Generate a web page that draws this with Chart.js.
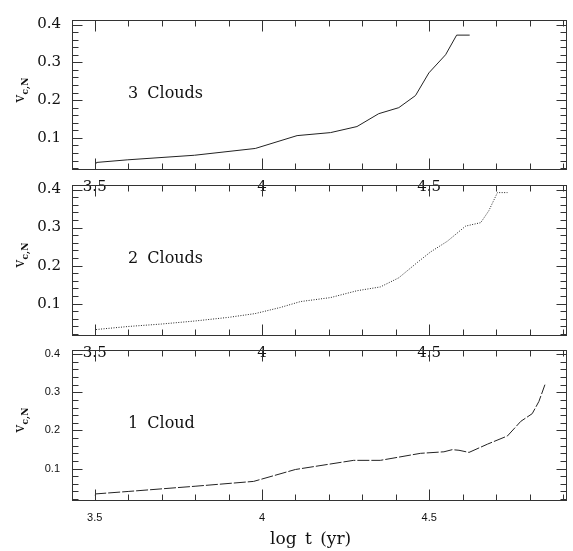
<!DOCTYPE html>
<html><head><meta charset="utf-8">
<script src="https://cdn.jsdelivr.net/npm/chart.js@4.4.0/dist/chart.umd.min.js"></script>
<style>
html,body{margin:0;padding:0;background:#fff;}
#wrap{position:relative;width:573px;height:551px;overflow:hidden;background:#fff;}
canvas{position:absolute;left:0;}
.lbl{position:absolute;font-family:"DejaVu Serif",serif;font-size:16px;color:#111;white-space:nowrap;line-height:1;word-spacing:4px;}
.yt{position:absolute;font-family:"DejaVu Serif",serif;font-size:14px;color:#111;transform:translate(-50%,-50%) rotate(-90deg);white-space:nowrap;line-height:1;}
.yt sub{font-size:9px;font-weight:bold;}
.xt{position:absolute;font-family:"DejaVu Serif",serif;font-size:17px;color:#111;white-space:nowrap;line-height:1;word-spacing:3px;}
</style></head><body>
<div id="wrap">
<canvas id="c0" width="573" height="200" style="top:0px"></canvas>
<canvas id="c1" width="573" height="200" style="top:165px"></canvas>
<canvas id="c2" width="573" height="220" style="top:331px"></canvas>
<div class="lbl" style="left:128px;top:85px">3 Clouds</div>
<div class="lbl" style="left:128px;top:250px">2 Clouds</div>
<div class="lbl" style="left:128px;top:415px">1 Cloud</div>
<div class="yt" style="left:21px;top:90px">v<sub>c,N</sub></div>
<div class="yt" style="left:21px;top:255px">v<sub>c,N</sub></div>
<div class="yt" style="left:21px;top:420px">v<sub>c,N</sub></div>
<div class="xt" style="left:270px;top:530px">log t (yr)</div>
</div>
<script>
// ---- data (log t, v_c,N) ----
const logT3 = [3.503, 3.505, 3.599, 3.798, 3.980, 4.105, 4.205, 4.284, 4.349, 4.409, 4.459, 4.499, 4.549, 4.582, 4.621];
const v3    = [0.031, 0.035, 0.042, 0.054, 0.072, 0.106, 0.114, 0.130, 0.164, 0.180, 0.212, 0.272, 0.320, 0.372, 0.372];

const logT2 = [3.504, 3.600, 3.700, 3.800, 3.900, 3.980, 4.055, 4.115, 4.205, 4.284, 4.354, 4.409, 4.464, 4.504, 4.554, 4.609, 4.654, 4.678, 4.704, 4.734];
const v2    = [0.032, 0.040, 0.0465, 0.0545, 0.064, 0.074, 0.090, 0.1055, 0.116, 0.134, 0.144, 0.168, 0.208, 0.236, 0.264, 0.304, 0.313, 0.344, 0.392, 0.392];

const logT1 = [3.501, 3.503, 3.600, 3.800, 3.975, 4.100, 4.274, 4.354, 4.474, 4.544, 4.569, 4.589, 4.619, 4.674, 4.734, 4.774, 4.808, 4.828, 4.846];
const v1    = [0.030, 0.0336, 0.040, 0.0537, 0.0664, 0.0976, 0.1216, 0.1216, 0.140, 0.144, 0.1496, 0.148, 0.1424, 0.164, 0.1856, 0.224, 0.244, 0.276, 0.320];

const xTickValues = [3.5, 4, 4.5];
const xTickLabels = ['3.5', '4', '4.5'];
const yTickValues = [0.1, 0.2, 0.3, 0.4];
const yTickLabels = ['0.1', '0.2', '0.3', '0.4'];
const xMinorTicks = [3.5, 3.6, 3.7, 3.8, 3.9, 4.0, 4.1, 4.2, 4.3, 4.4, 4.5, 4.6, 4.7, 4.8, 4.9];
const yMinorTicks = [0.02, 0.04, 0.06, 0.08, 0.10, 0.12, 0.14, 0.16, 0.18, 0.20, 0.22, 0.24, 0.26, 0.28, 0.30, 0.32, 0.34, 0.36, 0.38, 0.40];

const X_MIN = 3.432, X_MAX = 4.912, Y_MIN = 0.015, Y_MAX = 0.412;

const frameTicks = {
  id: 'frameTicks',
  afterDatasetsDraw(chart) {
    const {ctx, chartArea: a, scales: {x, y}} = chart;
    const L = Math.round(a.left) + 0.5, R = Math.round(a.right) - 0.5;
    const T = Math.round(a.top) + 0.5, B = Math.round(a.bottom) - 0.5;
    ctx.save();
    ctx.strokeStyle = '#333';
    ctx.lineWidth = 1;
    ctx.beginPath();
    xMinorTicks.forEach(v => {
      const px = Math.round(x.getPixelForValue(v)) + 0.5;
      if (px <= L || px >= R) return;
      const major = xTickValues.some(m => Math.abs(m - v) < 1e-6);
      const len = major ? 11 : 6;
      ctx.moveTo(px, T); ctx.lineTo(px, T + len);
      ctx.moveTo(px, B); ctx.lineTo(px, B - len);
    });
    yMinorTicks.forEach(v => {
      const py = Math.round(y.getPixelForValue(v)) + 0.5;
      if (py <= T || py >= B) return;
      const major = yTickValues.some(m => Math.abs(m - v) < 1e-6);
      const len = major ? 10 : 6;
      ctx.moveTo(L, py); ctx.lineTo(L + len, py);
      ctx.moveTo(R, py); ctx.lineTo(R - len, py);
    });
    ctx.stroke();
    ctx.strokeRect(L, T, R - L, B - T);
    ctx.restore();
  }
};

function makeChart(id, xs, ys, dash, cfg) {
  return new Chart(document.getElementById(id), {
    type: 'line',
    data: {datasets: [{
      data: xs.map((xv, i) => ({x: xv, y: ys[i]})),
      borderColor: '#222', borderWidth: 1, borderDash: dash,
      pointRadius: 0, tension: 0, fill: false
    }]},
    options: {
      responsive: false, animation: false, events: [],
      layout: {padding: {top: 5, right: 6, left: 0, bottom: 0}},
      plugins: {legend: {display: false}, tooltip: {enabled: false}, title: {display: false}},
      scales: {
        x: {
          type: 'linear', min: X_MIN, max: X_MAX,
          grid: {display: false, drawTicks: false}, border: {display: false},
          afterBuildTicks: s => { s.ticks = xTickValues.map(v => ({value: v})); },
          afterFit: s => { s.height = cfg.xh; },
          ticks: {
            autoSkip: false, maxRotation: 0, color: '#111', padding: cfg.xPad, font: cfg.xFont,
            callback: v => xTickLabels[xTickValues.indexOf(v)]
          }
        },
        y: {
          type: 'linear', min: Y_MIN, max: Y_MAX,
          grid: {display: false, drawTicks: false}, border: {display: false},
          afterBuildTicks: s => { s.ticks = yTickValues.map(v => ({value: v})); },
          afterFit: s => { s.width = 72; },
          ticks: {
            autoSkip: false, color: '#111', padding: cfg.yPad, font: cfg.yFont,
            callback: v => yTickLabels[yTickValues.indexOf(v)]
          }
        }
      }
    },
    plugins: [frameTicks]
  });
}

const serif = {family: '"DejaVu Serif", serif', size: 15};
const sans = {family: '"Liberation Sans", Arial, sans-serif', size: 11};
makeChart('c0', logT3, v3, [], {xh: 30, xPad: 8, xFont: serif, yPad: 11, yFont: serif});
makeChart('c1', logT2, v2, [1, 1.5], {xh: 29, xPad: 8, xFont: serif, yPad: 11, yFont: serif});
makeChart('c2', logT1, v1, [12, 2], {xh: 50, xPad: 10, xFont: sans, yPad: 12, yFont: sans});
</script>
</body></html>
